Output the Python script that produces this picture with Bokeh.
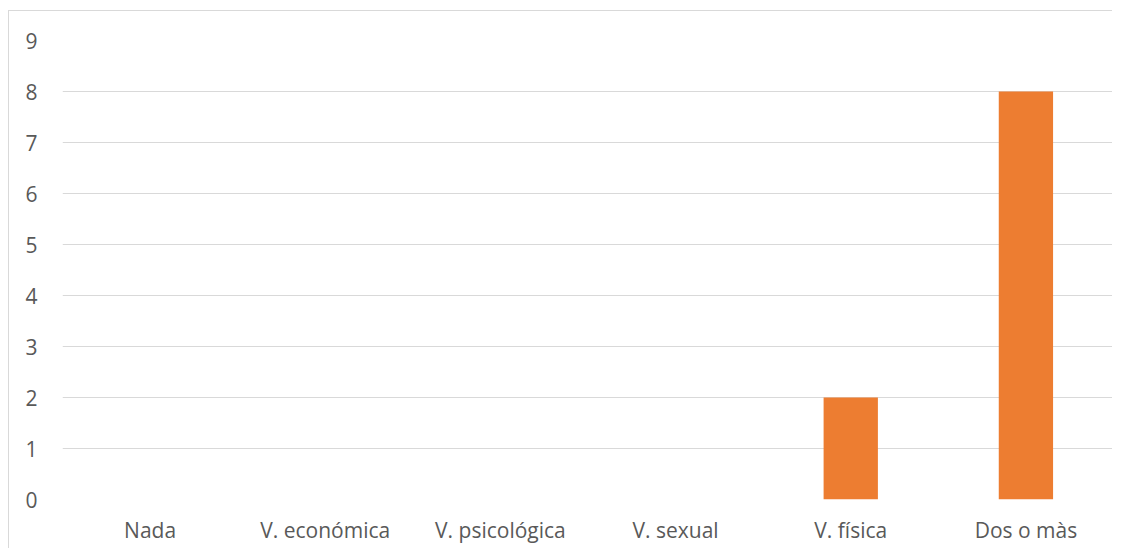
from bokeh.plotting import figure
from bokeh.models import Range1d, FactorRange, SingleIntervalTicker, ColumnDataSource
from bokeh.embed import file_html
from bokeh.resources import INLINE

categories = ["Nada", "V. económica", "V. psicológica", "V. sexual", "V. física", "Dos o màs"]
values = [0, 0, 0, 0, 2, 8]

FONT = "Open Sans"
TXT = "#595959"
GRID = "#D9D9D9"

src = ColumnDataSource(dict(cat=categories, val=values))

p = figure(x_range=FactorRange(*categories, range_padding=0), y_range=Range1d(0, 9),
           width=1104, height=538, output_backend="svg", toolbar_location=None,
           min_border_left=53, min_border_right=0, min_border_top=29, min_border_bottom=50)
p.styles = {"margin-left": "8px", "margin-top": "10px",
            "border-left": "1px solid #D9D9D9", "border-top": "1px solid #D9D9D9"}

p.vbar(x="cat", top="val", width=0.31, source=src, color="#ED7D31", line_color=None)

p.outline_line_color = None
p.xgrid.grid_line_color = None
p.ygrid.grid_line_color = GRID
p.ygrid.grid_line_width = 1
p.yaxis.ticker = SingleIntervalTicker(interval=1)
for ax in (p.xaxis[0], p.yaxis[0]):
    ax.axis_line_color = None
    ax.major_tick_line_color = None
    ax.minor_tick_line_color = None
    ax.major_label_text_font = FONT
    ax.major_label_text_font_size = "21px"
    ax.major_label_text_color = TXT
p.yaxis.major_label_standoff = 19
p.xaxis.major_label_standoff = 10

open("out.html", "w").write(file_html(p, INLINE))
